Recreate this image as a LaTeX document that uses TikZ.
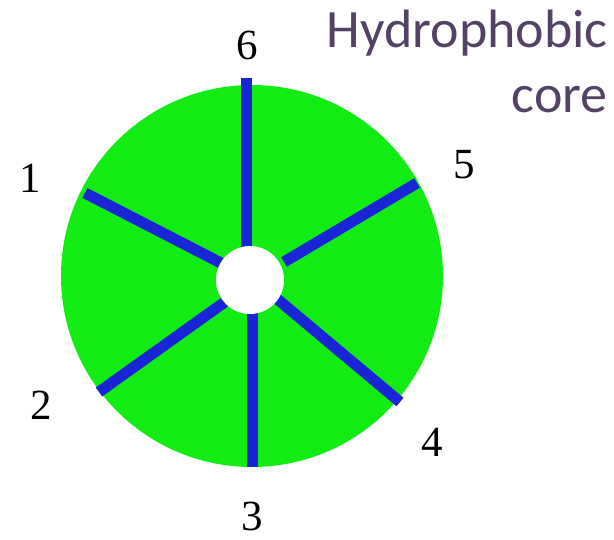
\documentclass[tikz,border=0pt]{standalone}
\usepackage{fontspec}
\setmainfont{Liberation Serif}
\newfontfamily\calfont{Carlito}
\usetikzlibrary{positioning}
\definecolor{discgreen}{RGB}{18,236,18}
\definecolor{spokeblue}{RGB}{24,36,214}
\definecolor{titlegray}{RGB}{82,66,100}

\begin{document}
\begin{tikzpicture}[x=1pt,y=-1pt,
  spoke/.style={spokeblue,line width=11pt},
  num/.style={font=\fontsize{43}{43}\selectfont,inner sep=0pt}]
\useasboundingbox (0,0) rectangle (614,539);
\fill[discgreen] (252,276) circle[radius=191];
% spokes
\coordinate (o6) at (246,78);  \coordinate (i6) at (246,247);
\coordinate (o1) at (85,193);  \coordinate (i1) at (221,263);
\coordinate (o5) at (417,183); \coordinate (i5) at (284,262);
\coordinate (o2) at (99,392);  \coordinate (i2) at (229,299);
\coordinate (o4) at (400,402); \coordinate (i4) at (276,298);
\coordinate (o3) at (252,467); \coordinate (i3) at (252,308);
\draw[spoke] (o6) -- (i6);
\draw[spoke] (o1) -- (i1);
\draw[spoke] (o5) -- (i5);
\draw[spoke] (o2) -- (i2);
\draw[spoke] (o4) -- (i4);
\draw[spoke] (o3) -- (i3);
\fill[white] (250,280) circle[radius=34];
% labels
\node[num] (n6) at (247,45) {6};
\node[num] (n1) at (30,178) {1};
\node[num] (n5) at (464,165) {5};
\node[num] (n2) at (41,405) {2};
\node[num] (n4) at (432,442) {4};
\node[num] (n3) at (252,516) {3};
\node[font=\calfont\fontsize{54}{65}\selectfont,text=titlegray,align=right,
  inner sep=0pt,anchor=north east] (core) at (608,10) {Hydrophobic\\core};
\end{tikzpicture}
\end{document}
